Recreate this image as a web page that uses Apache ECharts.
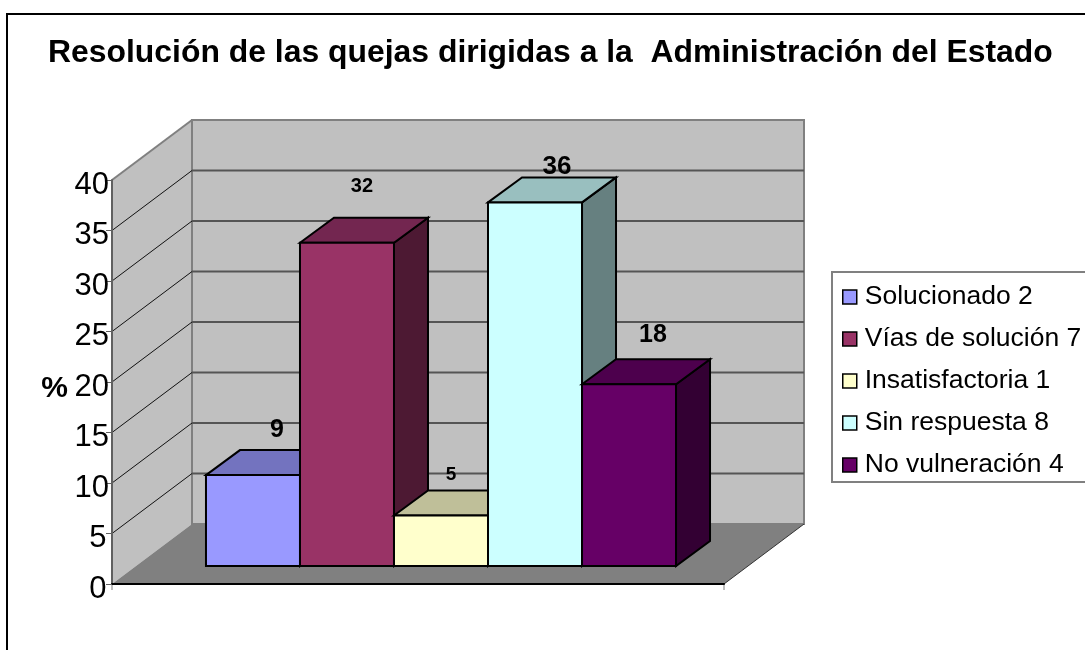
<!DOCTYPE html>
<html>
<head>
<meta charset="utf-8">
<style>
  html, body { margin: 0; padding: 0; background: #fff; overflow: hidden; }
  #chart { width: 1085px; height: 650px; }
</style>
<script src="https://cdn.jsdelivr.net/npm/echarts@6/dist/echarts.min.js"></script>
</head>
<body>
<div id="chart"></div>
<script>
const titleText = "Resolución de las quejas dirigidas a la  Administración del Estado";
const seriesNames = ["Solucionado 2", "Vías de solución 7", "Insatisfactoria 1", "Sin respuesta 8", "No vulneración 4"];
const seriesValues = [9, 32, 5, 36, 18];
const yTicks = [0, 5, 10, 15, 20, 25, 30, 35, 40];

// colores de Excel: frente, tapa, lateral
const frontColors = ["#9999FF", "#993366", "#FFFFCC", "#CCFFFF", "#660066"];
const topColors = ["#7373BF", "#732650", "#BFBF99", "#99BFBF", "#4D004D"];
const sideColors = ["#4D4D80", "#4D1933", "#808066", "#668080", "#330033"];

// etiquetas colocadas a mano respecto a la tapa de cada barra
const labelSizes = [25, 20, 19, 26, 25];
const labelOffsets = [[24, -45], [15, -56], [10, -41], [22, -36], [24, -49]];

const FONT = '"Liberation Sans", Arial, sans-serif';
const WALL_DX = 80, WALL_DY = -60; // fondo de la caja 3D
const INSET_DX = 23, INSET_DY = -18; // separación barra / plano frontal
const BAR_DX = 34, BAR_DY = -25; // fondo de la barra
const BAND_PARTS = 6.51; // anchura de la categoría en anchos de barra
const TICK_LEN = 6;

const chart = echarts.init(document.getElementById("chart"));

function poly(points, fill, stroke, lineWidth) {
  return {
    type: "polygon",
    shape: { points },
    style: { fill, stroke: stroke || "none", lineWidth: lineWidth || 0 },
  };
}

function line(x1, y1, x2, y2, stroke, lineWidth) {
  return {
    type: "line",
    shape: { x1, y1, x2, y2 },
    style: { stroke, lineWidth },
  };
}

// paredes, suelo y líneas de división
function renderWalls(params, api) {
  const tick = api.value(1);
  const p = api.coord([0, tick]);
  const sys = params.coordSys;
  const left = sys.x;
  const right = sys.x + sys.width;
  const bottom = sys.y + sys.height;
  const top = sys.y;
  const children = [];
  if (tick === 0) {
    children.push(poly([[left, top], [left + WALL_DX, top + WALL_DY], [left + WALL_DX, bottom + WALL_DY], [left, bottom]], "#C0C0C0"));
    children.push(poly([[left + WALL_DX, top + WALL_DY], [right + WALL_DX, top + WALL_DY], [right + WALL_DX, bottom + WALL_DY], [left + WALL_DX, bottom + WALL_DY]], "#C0C0C0", "#808080", 2));
    children.push(poly([[left, bottom], [left + WALL_DX, bottom + WALL_DY], [right + WALL_DX, bottom + WALL_DY], [right, bottom]], "#808080"));
    children.push(line(left + WALL_DX, top + WALL_DY, left + WALL_DX, bottom + WALL_DY, "#808080", 2));
    children.push(line(right, bottom, right + WALL_DX, bottom + WALL_DY, "#333333", 1));
    // marcas del eje de categorías
    children.push(line(left, bottom, left, bottom + TICK_LEN, "#808080", 1));
    children.push(line(right, bottom, right, bottom + TICK_LEN, "#808080", 1));
  } else if (tick === 40) {
    children.push(line(left, p[1], left + WALL_DX, p[1] + WALL_DY, "#808080", 2));
  } else {
    children.push(line(left, p[1], left + WALL_DX, p[1] + WALL_DY, "#111111", 1));
    children.push(line(left + WALL_DX, p[1] + WALL_DY, right + WALL_DX, p[1] + WALL_DY, "#555555", 2));
  }
  return { type: "group", children };
}

// una barra en 3D: frente, tapa, lateral y etiqueta
function makeBarRenderer(i) {
  return function (params, api) {
    const value = api.value(1);
    const band = api.size([1, 0])[0];
    const center = api.coord([0, 0])[0];
    const barW = band / BAND_PARTS;
    const x0 = center - 2.5 * barW + i * barW + INSET_DX;
    const x1 = x0 + barW;
    const yTop = api.coord([0, value])[1] + INSET_DY;
    const yBase = api.coord([0, 0])[1] + INSET_DY;
    const black = "#000000";
    return {
      type: "group",
      children: [
        poly([[x1, yTop], [x1 + BAR_DX, yTop + BAR_DY], [x1 + BAR_DX, yBase + BAR_DY], [x1, yBase]], sideColors[i], black, 2),
        poly([[x0, yTop], [x0 + BAR_DX, yTop + BAR_DY], [x1 + BAR_DX, yTop + BAR_DY], [x1, yTop]], topColors[i], black, 2),
        poly([[x0, yTop], [x1, yTop], [x1, yBase], [x0, yBase]], frontColors[i], black, 2),
        {
          type: "text",
          z2: 10,
          style: {
            x: (x0 + x1) / 2 + labelOffsets[i][0],
            y: yTop + labelOffsets[i][1],
            text: String(value),
            fill: "#000000",
            font: "bold " + labelSizes[i] + "px " + FONT,
            align: "center",
            verticalAlign: "middle",
          },
        },
      ],
    };
  };
}

const option = {
  animation: false,
  backgroundColor: "#ffffff",
  title: {
    text: titleText,
    left: 48,
    top: 37,
    padding: 0,
    textStyle: { fontFamily: FONT, fontSize: 31.9, fontWeight: "bold", color: "#000000" },
  },
  legend: {
    left: 832,
    top: 272,
    orient: "vertical",
    align: "left",
    data: seriesNames,
    icon: "rect",
    itemWidth: 14,
    itemHeight: 14,
    itemGap: 14,
    selectedMode: false,
    padding: [11, 40, 3, 10],
    borderColor: "#808080",
    borderWidth: 2,
    itemStyle: { borderColor: "#000000", borderWidth: 1.5 },
    textStyle: { fontFamily: FONT, fontSize: 26.5, lineHeight: 28, color: "#000000", padding: [0, 0, 0, 3] },
  },
  grid: { left: 112, top: 180, width: 612, height: 404 },
  xAxis: {
    type: "category",
    data: [""],
    z: 3,
    axisLine: { lineStyle: { color: "#000000", width: 2 } },
    axisTick: { show: false },
    axisLabel: { show: false },
    splitLine: { show: false },
  },
  yAxis: {
    type: "value",
    min: 0,
    max: 40,
    interval: 5,
    z: 3,
    name: "%",
    nameLocation: "middle",
    nameRotate: 0,
    nameGap: 44,
    nameTextStyle: { fontFamily: FONT, fontSize: 30, fontWeight: "bold", color: "#000000", verticalAlign: "top", lineHeight: 14 },
    axisLine: { show: true, lineStyle: { color: "#606060", width: 2 } },
    axisTick: { show: true, length: TICK_LEN, lineStyle: { color: "#606060", width: 1 } },
    axisLabel: {
      fontFamily: FONT,
      fontSize: 31,
      color: "#000000",
      margin: 3,
      // el texto del original queda algo por debajo de cada marca
      verticalAlign: "top",
      lineHeight: 10,
      // las cifras sueltas quedan algo más a la izquierda en el original
      formatter: (v) => (v < 10 ? v + "\u200a" : String(v)),
    },
    splitLine: { show: false },
  },
  graphic: [
    {
      type: "rect",
      silent: true,
      z: -1,
      shape: { x: 7, y: 14, width: 1200, height: 800 },
      style: { fill: "none", stroke: "#000000", lineWidth: 2 },
    },
  ],
  series: [
    {
      type: "custom",
      name: "paredes",
      silent: true,
      clip: false,
      z: 1,
      encode: { x: 0, y: 1 },
      data: yTicks.map((t) => [0, t]),
      renderItem: renderWalls,
    },
    ...seriesNames.map((name, i) => ({
      type: "custom",
      name,
      silent: true,
      clip: false,
      z: 2,
      encode: { x: 0, y: 1 },
      itemStyle: { color: frontColors[i] },
      data: [[0, seriesValues[i]]],
      renderItem: makeBarRenderer(i),
    })),
  ],
};

chart.setOption(option);
</script>
</body>
</html>
